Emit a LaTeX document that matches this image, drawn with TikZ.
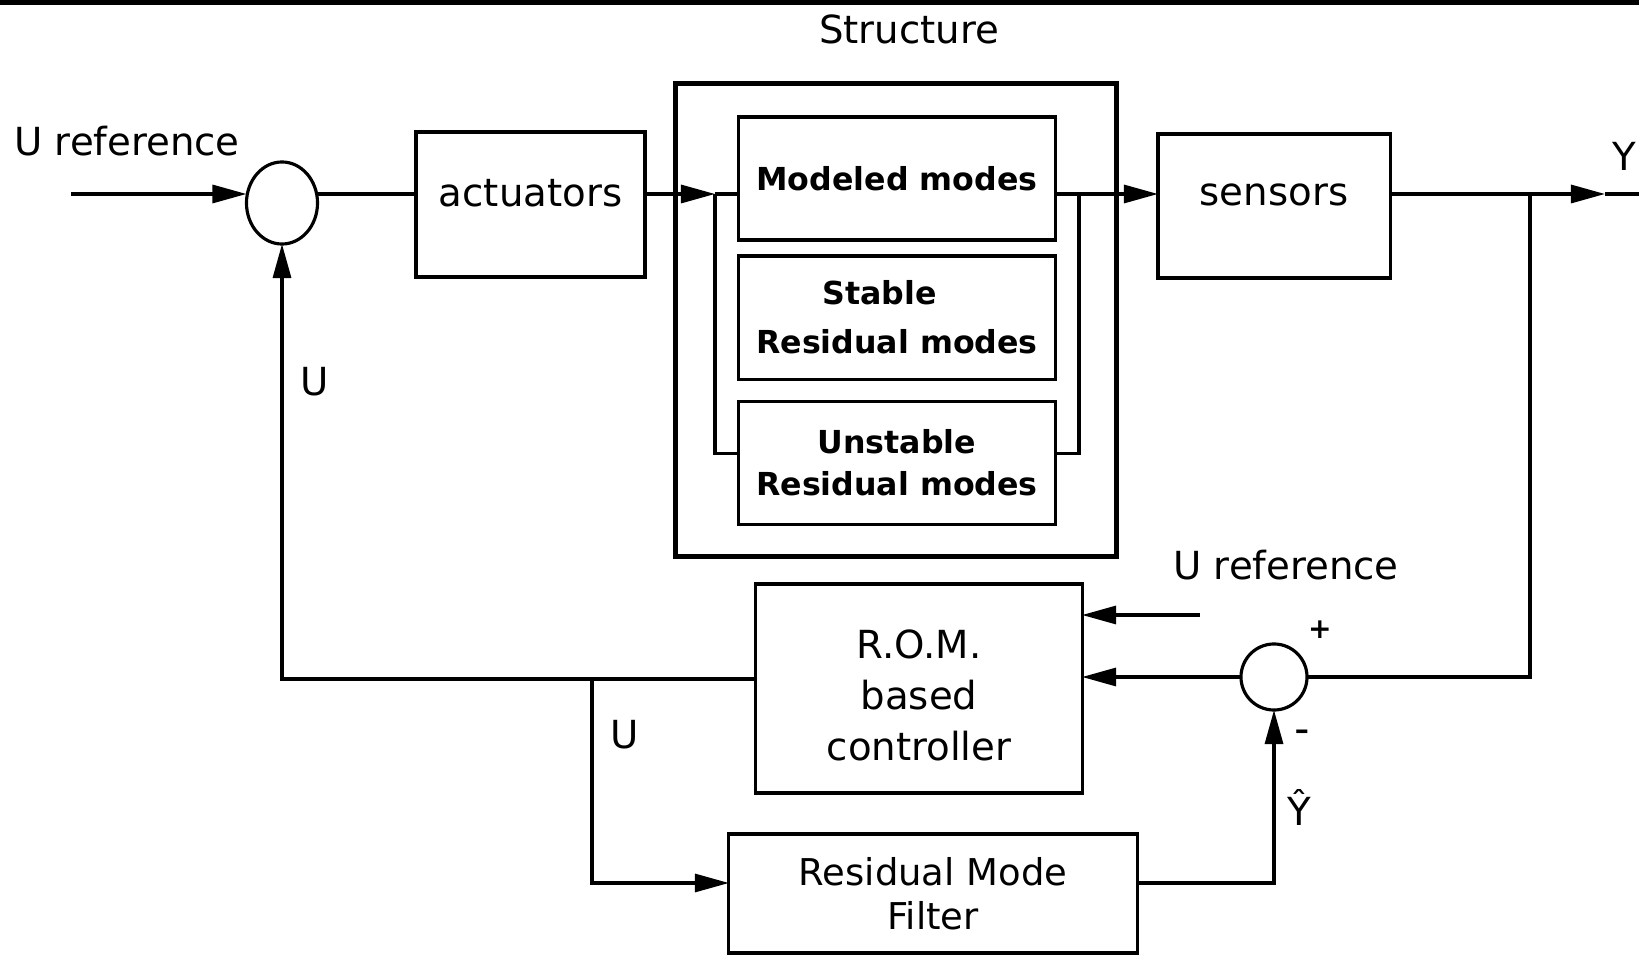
\documentclass[tikz,border=0pt]{standalone}
\usepackage{fontspec}
\setmainfont{DejaVu Sans}
\usepackage{tikz}
\usetikzlibrary{arrows.meta, positioning, shapes.geometric}

\begin{document}
\begin{tikzpicture}[
  x=0.01cm, y=-0.01cm,
  line width=0.9pt,
  blk/.style={draw, rectangle, align=center, inner sep=0pt, outer sep=0pt, font=\fontsize{11}{14.5}\selectfont},
  modebox/.style={draw, rectangle, align=center, inner sep=0pt, outer sep=0pt, minimum width=3.16cm, minimum height=1.23cm, font=\bfseries\fontsize{9}{14}\selectfont},
  sumcirc/.style={draw, circle, inner sep=0pt, outer sep=0pt, minimum size=0.66cm},
  sig/.style={-{Triangle[length=3.4mm, width=1.8mm]}},
  lbl/.style={inner sep=0pt, font=\fontsize{11}{13}\selectfont},
  pm/.style={inner sep=0pt, font=\bfseries\fontsize{8}{9}\selectfont}
]
\useasboundingbox (0,0) rectangle (1639,955);
\draw[line width=1.5pt] (0,2) -- (1639,2);

\node[lbl] (struclbl) at (909,29) {Structure};
\node[draw, line width=1.4pt, inner sep=0pt, outer sep=0pt, minimum width=4.40cm, minimum height=4.72cm] (struct) at (896,320) {};

\node[modebox] (mod) at (897,178.5) {Modeled modes};
\node[modebox, below=0.16cm of mod] (stab) {Stable\kern10pt\\Residual modes};
\node[modebox, below=0.22cm of stab, font=\bfseries\fontsize{9}{12.2}\selectfont] (unst) {Unstable\\Residual modes};

\node[blk, minimum width=2.29cm, minimum height=1.45cm, text height=7.9pt, text depth=6.8pt] (act) at (530.5,204.5) {actuators};
\node[blk, minimum width=2.32cm, minimum height=1.44cm, text height=6pt, text depth=6.2pt] (sens) at (1274,206) {sensors};
\node[blk, minimum width=3.26cm, minimum height=2.09cm] (rom) at (919,688.5) {};
\node[lbl, align=center, font=\fontsize{11}{14.5}\selectfont] (romtxt) at ([yshift=-0.07cm]rom.center) {R.O.M.\\based\\controller};
\node[blk, minimum width=4.08cm, minimum height=1.19cm, font=\fontsize{10.5}{12.5}\selectfont] (rmf) at (933,893.5) {Residual Mode\\Filter};

\node[draw, ellipse, inner sep=0pt, outer sep=0pt, minimum width=0.71cm, minimum height=0.82cm] (sum1) at (282,203) {};
\node[sumcirc] (sum2) at (1274,677) {};

\coordinate (row) at (0,194);
\coordinate (uin) at (71,194);
\coordinate (busl) at (715,194);
\coordinate (busr) at (1079,194);
\coordinate (tap) at (1530,194);
\coordinate (ytip) at (1605,194);
\coordinate (yend) at (1639,194);
\coordinate (urefin) at (1200,615);
\coordinate (split) at (592,679);

\node[lbl] (uref1) at (127,141) {U reference};
\node[lbl] (uref2) at (1286,565) {U reference};
\node[lbl] (ufb) at (315,382) {U};
\node[lbl] (ubr) at (625,735) {U};
\node[pm] (plus) at (1320,630) {+};
\node[pm] (minus) at (1302,735) {--};
\node[lbl] (yhat) at (1299,807) {Ŷ};
\node[lbl, anchor=east] (yout) at (1638,156) {Y};

\draw[sig] (uin) -- (sum1.west |- row);
\draw (sum1.east |- row) -- (act.west |- row);
\draw[sig] (act.east |- row) -- (busl);
\draw (busl) -- (mod.west |- row);
\draw (busl) |- ([yshift=0.095cm]unst.west);
\draw (mod.east |- row) -- (busr);
\draw[sig] (busr) -- (sens.west |- row);
\draw (busr) |- ([yshift=0.095cm]unst.east);
\draw (sens.east |- row) -- (tap);
\draw[sig] (tap) -- (ytip);
\draw (ytip) -- (yend);
\draw (tap) |- (sum2.east);
\draw[sig] (sum2.west) -- (rom.east |- sum2.west);
\draw[sig] (urefin) -- (rom.east |- urefin);
\draw[sig] ([yshift=0.095cm]rom.west) -| (sum1.south);
\draw[sig] (split) |- ([yshift=0.105cm]rmf.west);
\draw[sig] ([yshift=0.105cm]rmf.east) -| (sum2.south);
\end{tikzpicture}
\end{document}
